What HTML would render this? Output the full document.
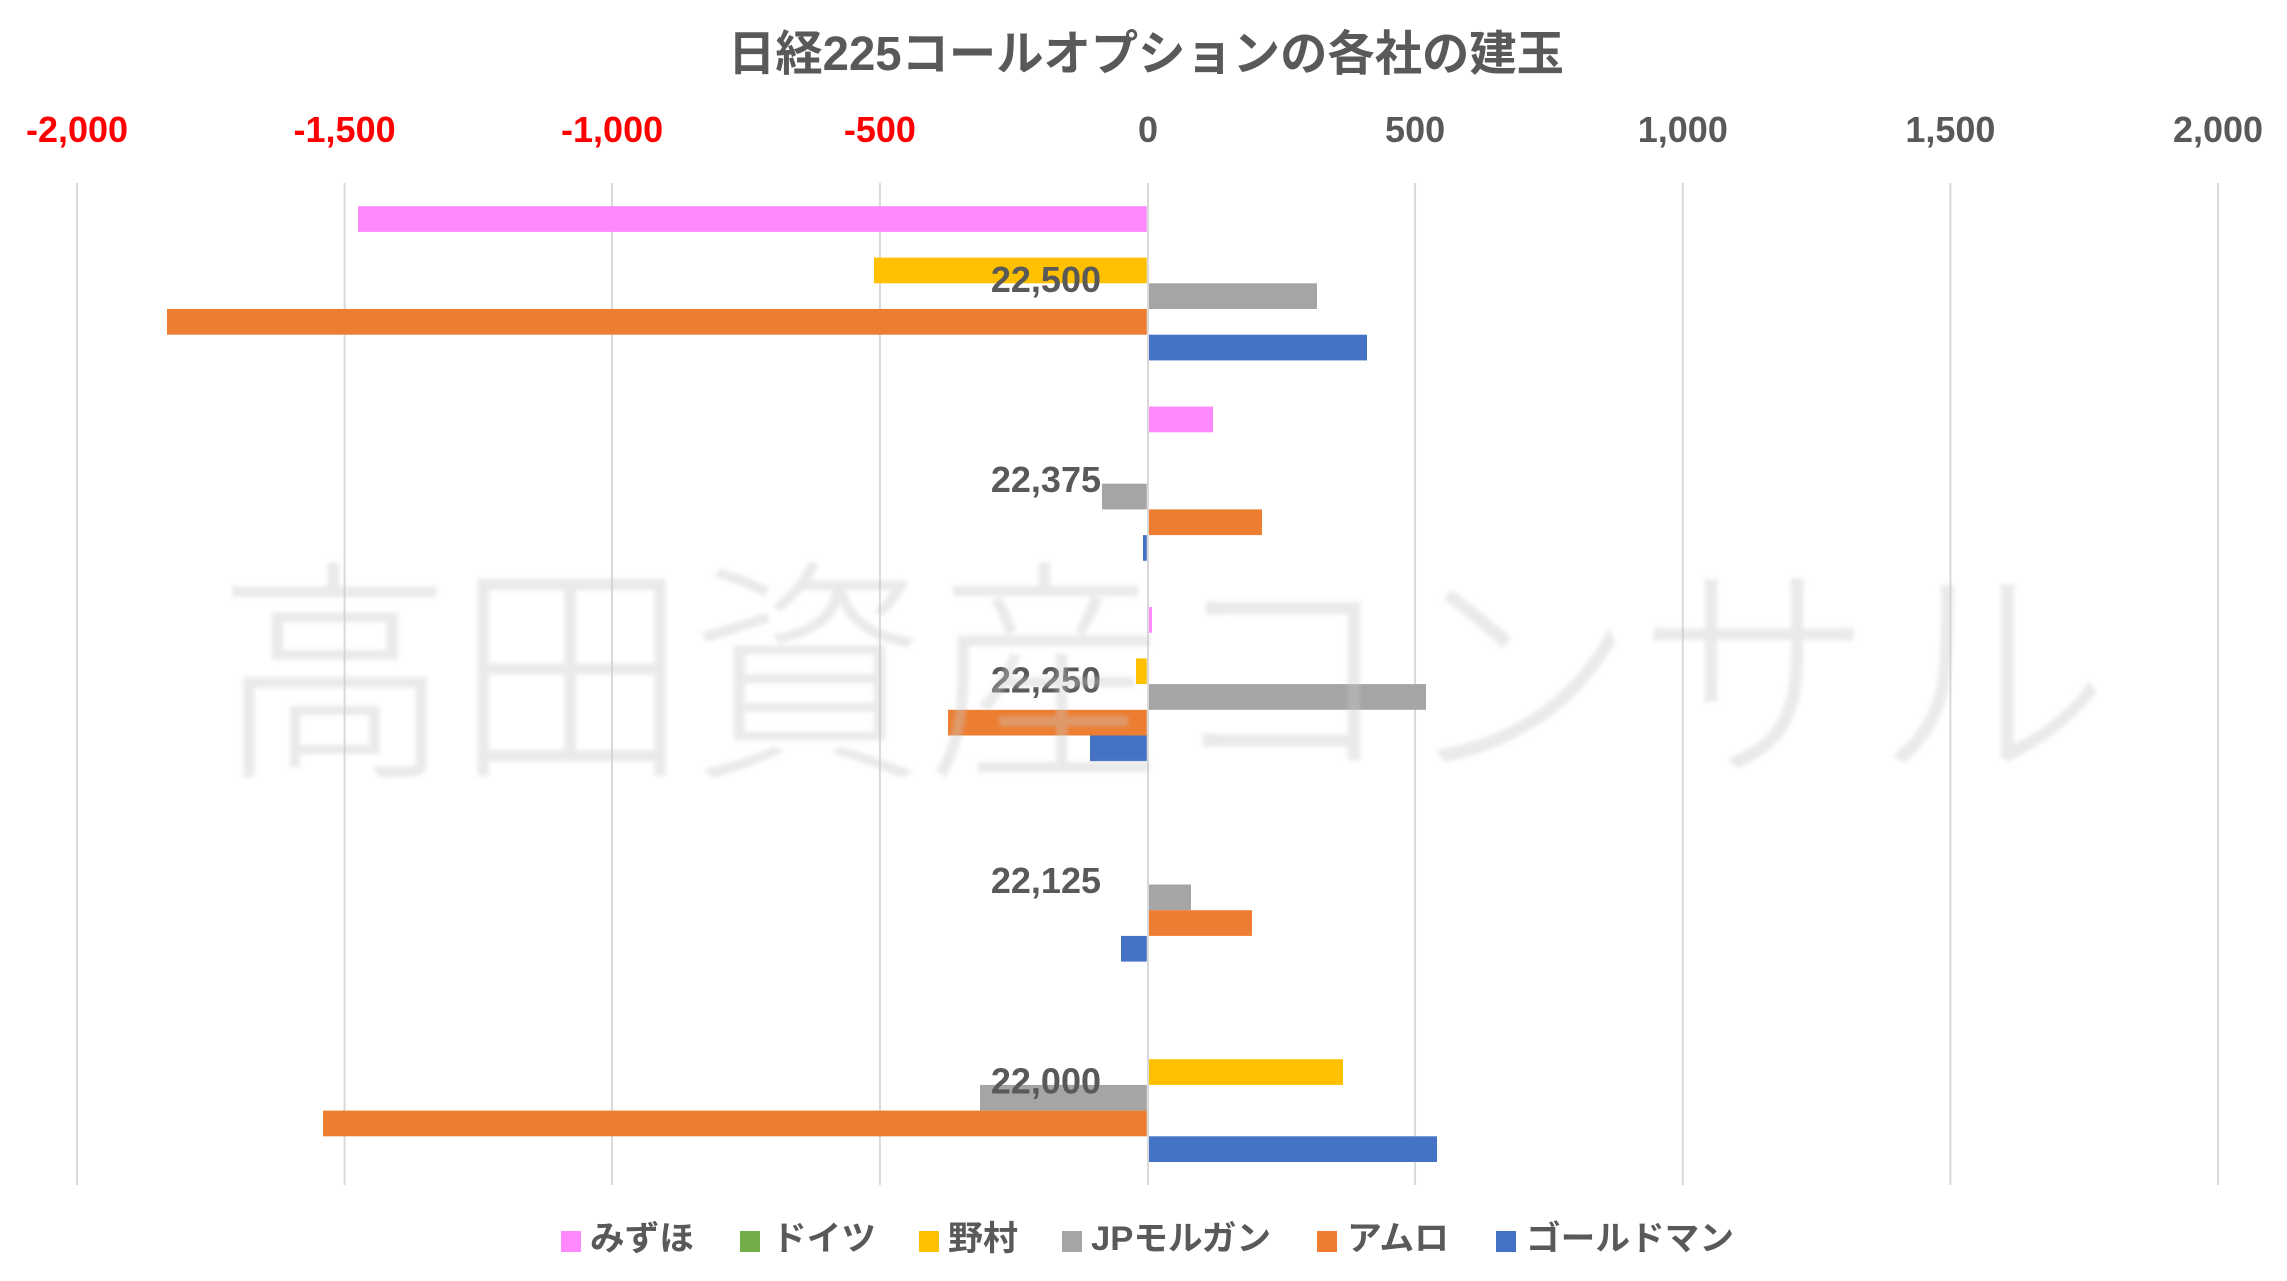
<!DOCTYPE html>
<html>
<head>
<meta charset="utf-8">
<style>
html,body{margin:0;padding:0;background:#fff;}
svg{display:block;}
</style>
</head>
<body>
<svg width="2287" height="1281" viewBox="0 0 2287 1281" xmlns="http://www.w3.org/2000/svg">
<defs>
<filter id="soft" x="-5%" y="-5%" width="110%" height="110%"><feGaussianBlur stdDeviation="2"/></filter>
</defs>
<rect width="2287" height="1281" fill="#fff"/>

<!-- Title -->
<text x="728" y="70" textLength="836" lengthAdjust="spacingAndGlyphs" font-family="'Liberation Sans','Noto Sans CJK JP',sans-serif" font-weight="bold" font-size="48" fill="#595959">日経225コールオプションの各社の建玉</text>

<!-- Top axis tick labels -->
<g font-family="'Liberation Sans',sans-serif" font-weight="bold" font-size="36" text-anchor="middle">
<text x="77" y="142" fill="#FF0000">-2,000</text>
<text x="344.6" y="142" fill="#FF0000">-1,500</text>
<text x="612.1" y="142" fill="#FF0000">-1,000</text>
<text x="879.9" y="142" fill="#FF0000">-500</text>
<text x="1148" y="142" fill="#595959">0</text>
<text x="1415.1" y="142" fill="#595959">500</text>
<text x="1682.8" y="142" fill="#595959">1,000</text>
<text x="1950.4" y="142" fill="#595959">1,500</text>
<text x="2218" y="142" fill="#595959">2,000</text>
</g>

<!-- Gridlines -->
<g fill="#D9D9D9">
<rect x="76" y="183" width="2" height="1002"/>
<rect x="343.6" y="183" width="2" height="1002"/>
<rect x="611.1" y="183" width="2" height="1002"/>
<rect x="878.9" y="183" width="2" height="1002"/>
<rect x="1147" y="183" width="2" height="1002"/>
<rect x="1414.1" y="183" width="2" height="1002"/>
<rect x="1681.8" y="183" width="2" height="1002"/>
<rect x="1949.4" y="183" width="2" height="1002"/>
<rect x="2217" y="183" width="2" height="1002"/>
</g>

<!-- Bars -->
<!-- 22,500 -->
<rect x="358" y="206.2" width="788.8" height="25.7" fill="#FF88FC"/>
<rect x="874" y="257.6" width="272.8" height="25.7" fill="#FFC000"/>
<rect x="1149" y="283.3" width="168" height="25.7" fill="#A5A5A5"/>
<rect x="167" y="309" width="979.8" height="25.7" fill="#ED7D31"/>
<rect x="1149" y="334.7" width="218" height="25.7" fill="#4472C4"/>
<!-- 22,375 -->
<rect x="1149" y="406.6" width="64" height="25.7" fill="#FF88FC"/>
<rect x="1102" y="483.7" width="44.8" height="25.7" fill="#A5A5A5"/>
<rect x="1149" y="509.4" width="113" height="25.7" fill="#ED7D31"/>
<rect x="1143" y="535.1" width="3.8" height="25.7" fill="#4472C4"/>
<!-- 22,250 -->
<rect x="1149" y="607" width="3" height="25.7" fill="#FF88FC"/>
<rect x="1136" y="658.4" width="10.8" height="25.7" fill="#FFC000"/>
<rect x="1149" y="684.1" width="277" height="25.7" fill="#A5A5A5"/>
<rect x="948" y="709.8" width="198.8" height="25.7" fill="#ED7D31"/>
<rect x="1090" y="735.5" width="56.8" height="25.7" fill="#4472C4"/>
<!-- 22,125 -->
<rect x="1149" y="884.5" width="42" height="25.7" fill="#A5A5A5"/>
<rect x="1149" y="910.2" width="103" height="25.7" fill="#ED7D31"/>
<rect x="1121" y="935.9" width="25.8" height="25.7" fill="#4472C4"/>
<!-- 22,000 -->
<rect x="1149" y="1059.2" width="194" height="25.7" fill="#FFC000"/>
<rect x="980" y="1084.9" width="166.8" height="25.7" fill="#A5A5A5"/>
<rect x="323" y="1110.6" width="823.8" height="25.7" fill="#ED7D31"/>
<rect x="1149" y="1136.3" width="288" height="25.7" fill="#4472C4"/>

<!-- Category labels -->
<g font-family="'Liberation Sans',sans-serif" font-weight="bold" font-size="36" text-anchor="end" fill="#595959">
<text x="1101" y="292">22,500</text>
<text x="1101" y="492">22,375</text>
<text x="1101" y="692.5">22,250</text>
<text x="1101" y="893">22,125</text>
<text x="1101" y="1093.3">22,000</text>
</g>

<!-- Watermark -->
<text x="216" y="760" textLength="1894" lengthAdjust="spacing" font-family="'Noto Sans CJK JP','Noto Sans CJK SC',sans-serif" font-weight="300" font-size="237" fill="rgba(200,200,200,0.38)" filter="url(#soft)">高田資産コンサル</text>

<!-- Legend -->
<g font-family="'Liberation Sans','Noto Sans CJK JP',sans-serif" font-weight="bold" font-size="34" fill="#595959">
<rect x="561" y="1231" width="20" height="21" fill="#FF88FC"/>
<text x="590" y="1250" textLength="104" lengthAdjust="spacingAndGlyphs">みずほ</text>
<rect x="740" y="1231" width="20" height="21" fill="#70AD47"/>
<text x="772" y="1250" textLength="104" lengthAdjust="spacingAndGlyphs">ドイツ</text>
<rect x="919" y="1231" width="20" height="21" fill="#FFC000"/>
<text x="948" y="1250" textLength="70" lengthAdjust="spacingAndGlyphs">野村</text>
<rect x="1062" y="1231" width="20" height="21" fill="#A5A5A5"/>
<text x="1091" y="1250" textLength="180" lengthAdjust="spacingAndGlyphs">JPモルガン</text>
<rect x="1317" y="1231" width="20" height="21" fill="#ED7D31"/>
<text x="1347" y="1250" textLength="102" lengthAdjust="spacingAndGlyphs">アムロ</text>
<rect x="1496" y="1231" width="20" height="21" fill="#4472C4"/>
<text x="1526" y="1250" textLength="208" lengthAdjust="spacingAndGlyphs">ゴールドマン</text>
</g>
</svg>
</body>
</html>
